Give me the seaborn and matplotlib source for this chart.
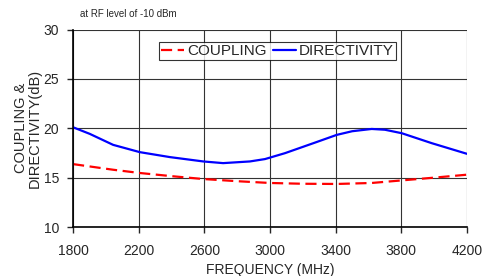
import numpy as np
import pandas as pd
import matplotlib
matplotlib.use("Agg")
import matplotlib.pyplot as plt
import seaborn as sns

sns.set_style("white")
plt.rcParams['font.family'] = ['Liberation Sans', 'DejaVu Sans']

# values
dir_freq = [1800, 1902, 2044, 2207, 2390, 2593, 2714, 2877, 2969, 3091, 3274, 3406, 3500, 3619, 3700, 3802, 3985, 4200]
dir_db = [20.1, 19.43, 18.32, 17.58, 17.08, 16.64, 16.47, 16.64, 16.88, 17.48, 18.55, 19.33, 19.7, 19.93, 19.85, 19.5, 18.49, 17.41]
cpl_freq = [1800, 2044, 2207, 2400, 2593, 2800, 2999, 3200, 3406, 3619, 3802, 4000, 4200]
cpl_db = [16.37, 15.8, 15.47, 15.15, 14.86, 14.64, 14.46, 14.38, 14.36, 14.46, 14.72, 15.0, 15.3]
x_ticks = [1800, 2200, 2600, 3000, 3400, 3800, 4200]
y_ticks = [10, 15, 20, 25, 30]

df = pd.concat([
    pd.DataFrame({"freq": cpl_freq, "db": cpl_db, "series": "COUPLING"}),
    pd.DataFrame({"freq": dir_freq, "db": dir_db, "series": "DIRECTIVITY"}),
])

fig = plt.figure(figsize=(4.84, 2.76), dpi=100)
ax = fig.add_axes([0.151, 0.1775, 0.814, 0.7155])

sns.lineplot(data=df, x="freq", y="db", hue="series", style="series",
             palette={"COUPLING": "#ff0000", "DIRECTIVITY": "#0000ff"},
             dashes={"COUPLING": (5, 2.5), "DIRECTIVITY": ""},
             linewidth=1.6, ax=ax)

ax.set_xlim(1800, 4200)
ax.set_ylim(10, 30)
ax.set_xticks(x_ticks)
ax.set_yticks(y_ticks)
ax.grid(True, color="#333333", linewidth=0.8)
ax.tick_params(axis="x", direction="out", length=4, width=1, labelsize=10,
               bottom=True, pad=8)
ax.tick_params(axis="y", direction="out", length=4, width=1, labelsize=10,
               left=True, pad=6)
for s in ["top", "right"]:
    ax.spines[s].set_visible(False)
for s in ["left", "bottom"]:
    ax.spines[s].set_color("black")
    ax.spines[s].set_linewidth(1.2)

ax.set_xlabel("FREQUENCY (MHz)", fontsize=10, labelpad=4)
ax.set_ylabel("COUPLING &\nDIRECTIVITY(dB)", fontsize=10.5, labelpad=1,
              linespacing=1.05)

leg = ax.legend(loc="upper center", bbox_to_anchor=(0.519, 0.939), ncol=2,
                fontsize=11, frameon=True, fancybox=False, edgecolor="black",
                handlelength=1.5, handletextpad=0.2, columnspacing=0.4,
                borderpad=0.15, borderaxespad=0)
leg.get_frame().set_linewidth(0.8)

fig.text(80 / 484, 1 - 14 / 276, "at RF level of -10 dBm", fontsize=7, va="center")

fig.savefig("out.png", dpi=100)
